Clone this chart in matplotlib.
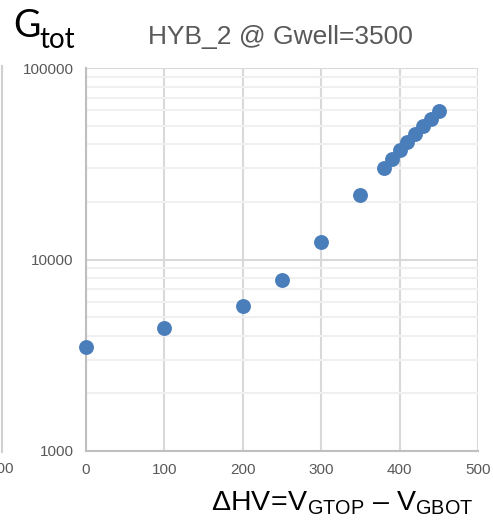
import matplotlib
matplotlib.use("Agg")
import matplotlib.pyplot as plt
from matplotlib.ticker import FixedLocator, NullFormatter
from matplotlib.lines import Line2D

plt.rcParams['font.family'] = ['Liberation Sans', 'DejaVu Sans']
plt.rcParams['mathtext.fontset'] = 'custom'
plt.rcParams['mathtext.rm'] = 'Liberation Sans'
plt.rcParams['mathtext.it'] = 'Liberation Sans'

# Gain vs. GEM voltage difference
delta_hv = [0, 100, 200, 250, 300, 350, 380, 390, 400, 410, 420, 430, 440, 450]
gain_tot = [3500, 4400, 5700, 7800, 12400, 21800, 30200, 33600, 37100,
            41100, 45200, 49500, 54100, 59800]
x_ticks = [0, 100, 200, 300, 400, 500]
y_ticks = [1000, 10000, 100000]
y_tick_labels = ['1000', '10000', '100000']
title = 'HYB_2 @ Gwell=3500'

W, H = 493, 525
fig = plt.figure(figsize=(W / 100, H / 100), dpi=100)
ax = fig.add_axes([86 / W, 1 - 451 / H, (478 - 86) / W, (451 - 68) / H])

ax.set_xscale('linear')
ax.set_yscale('log')
ax.set_xlim(0, 500)
ax.set_ylim(1000, 100000)

major_grid = '#d9d9d9'
minor_grid = '#f0f0f0'
ax.set_xticks(x_ticks)
ax.set_yticks(y_ticks)
ax.set_yticklabels(y_tick_labels)
minor = [m * 10 ** e for e in (3, 4) for m in range(2, 10)]
ax.yaxis.set_minor_locator(FixedLocator(minor))
ax.yaxis.set_minor_formatter(NullFormatter())
ax.grid(True, which='major', color=major_grid, linewidth=1.5)
ax.grid(True, which='minor', axis='y', color=minor_grid, linewidth=1.5)
ax.set_axisbelow(True)

for side in ('top', 'right'):
    ax.spines[side].set_visible(False)
ax.spines['left'].set_color('#bfbfbf')
ax.spines['bottom'].set_color('#bfbfbf')
ax.spines['left'].set_linewidth(1.5)
ax.spines['bottom'].set_linewidth(1.5)
ax.tick_params(which='both', length=0, colors='#595959', labelsize=11)
ax.tick_params(axis='x', pad=9)
ax.tick_params(axis='y', pad=9)

ax.scatter(delta_hv, gain_tot, s=115, color='#4a7ebb', zorder=3,
           clip_on=False, linewidths=0)

fig.text(148 / W, 1 - 37 / H, title, fontsize=19, color='#595959',
         ha='left', va='center')

# Axis name for gain, drawn as a main letter plus a subscript
fig.text(13 / W, 1 - 37 / H, 'G', fontsize=27, family='Lato',
         color='black', ha='left', va='baseline')
fig.text(39 / W, 1 - 48 / H, 'tot', fontsize=20, family='Lato',
         color='black', ha='left', va='baseline')

fig.text(473 / W, 1 - 503 / H,
         '$\\mathregular{\u0394HV\\!=\\!V_{GTOP}\\ \u2013\\ V_{GBOT}}$',
         fontsize=20.5, color='black', ha='right', va='center')

# Neighbouring panel edge and tick label at the left border
fig.add_artist(Line2D([1.5 / W, 1.5 / W], [1 - 452 / H, 1 - 66 / H],
                      transform=fig.transFigure, color='#d0d0d0', linewidth=1.5))
fig.text(14 / W, 1 - 469 / H, '500', fontsize=11, color='#595959',
         ha='right', va='center')

fig.savefig('out.png', dpi=100)
